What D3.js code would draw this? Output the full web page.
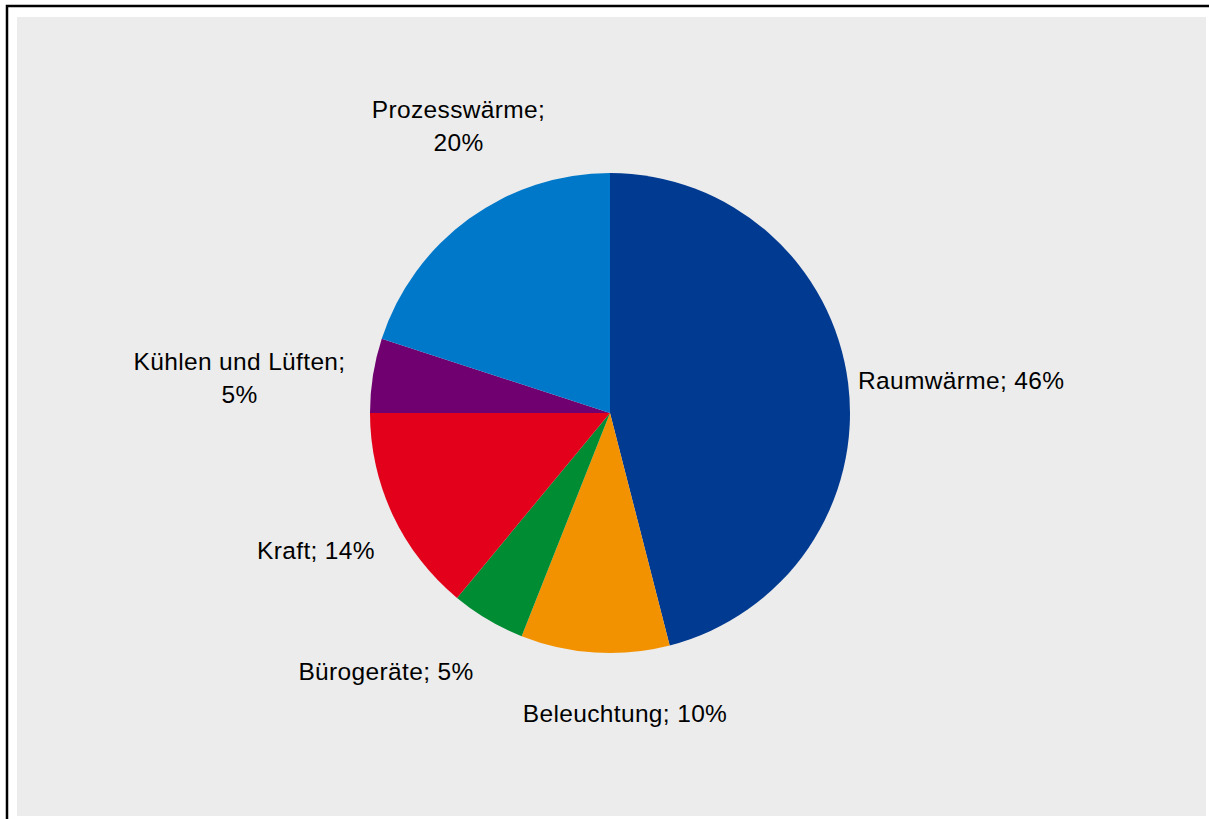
<!DOCTYPE html>
<html>
<head>
<meta charset="utf-8">
<script src="https://cdn.jsdelivr.net/npm/d3@7"></script>
<style>
  html, body { margin: 0; padding: 0; background: #ffffff; }
  svg { display: block; }
  text { font-family: "Liberation Sans", Arial, sans-serif; fill: #000; }
</style>
</head>
<body>
<svg id="chart" width="1209" height="819"></svg>
<script>
// Energy use by application (share in %)
const categories = ["Raumwärme", "Beleuchtung", "Bürogeräte", "Kraft", "Kühlen und Lüften", "Prozesswärme"];
const shares = [46, 10, 5, 14, 5, 20];
const colors = ["#003a91", "#f39200", "#008c33", "#e2001a", "#700070", "#0078c9"];

// Label text lines per slice (split where the label wraps)
const labelLines = [
  ["Raumwärme; 46%"],
  ["Beleuchtung; 10%"],
  ["Bürogeräte; 5%"],
  ["Kraft; 14%"],
  ["Kühlen und Lüften;", "5%"],
  ["Prozesswärme;", "20%"]
];
// Label placement relative to the pie centre: [dx, dy of first baseline, anchor]
const labelPlacement = [
  [248, -24, "start"],
  [15, 309, "middle"],
  [-224, 267, "middle"],
  [-294, 146, "middle"],
  [-370.5, -43, "middle"],
  [-151.5, -295, "middle"]
];

const svg = d3.select("#chart");
const W = 1209, H = 819;
const cx = 610, cy = 413, radius = 240;
const fontSize = 24.5, lineGap = 32.5;

// Outer frame and plot background
svg.append("rect").attr("x", 7).attr("y", 6).attr("width", W + 10).attr("height", H + 10)
  .attr("fill", "#ffffff").attr("stroke", "#000").attr("stroke-width", 2.5);
svg.append("rect").attr("x", 17).attr("y", 17).attr("width", 1189).attr("height", 799)
  .attr("fill", "#ececec");

const data = categories.map((c, i) => ({ name: c, value: shares[i], color: colors[i], lines: labelLines[i], place: labelPlacement[i] }));

const pie = d3.pie().sort(null).value(d => d.value);
const arc = d3.arc().innerRadius(0).outerRadius(radius);

const g = svg.append("g").attr("transform", `translate(${cx},${cy})`);

g.selectAll("path.slice")
  .data(pie(data))
  .join("path")
  .attr("class", "slice")
  .attr("d", arc)
  .attr("fill", d => d.data.color);

const labels = g.selectAll("text.label")
  .data(data)
  .join("text")
  .attr("class", "label")
  .attr("font-size", fontSize)
  .attr("letter-spacing", 0.35)
  .attr("text-anchor", d => d.place[2]);

labels.selectAll("tspan")
  .data(d => d.lines.map((t, k) => ({ t, k, p: d.place })))
  .join("tspan")
  .attr("x", d => d.p[0])
  .attr("y", d => d.p[1] + d.k * lineGap)
  .text(d => d.t);
</script>
</body>
</html>
